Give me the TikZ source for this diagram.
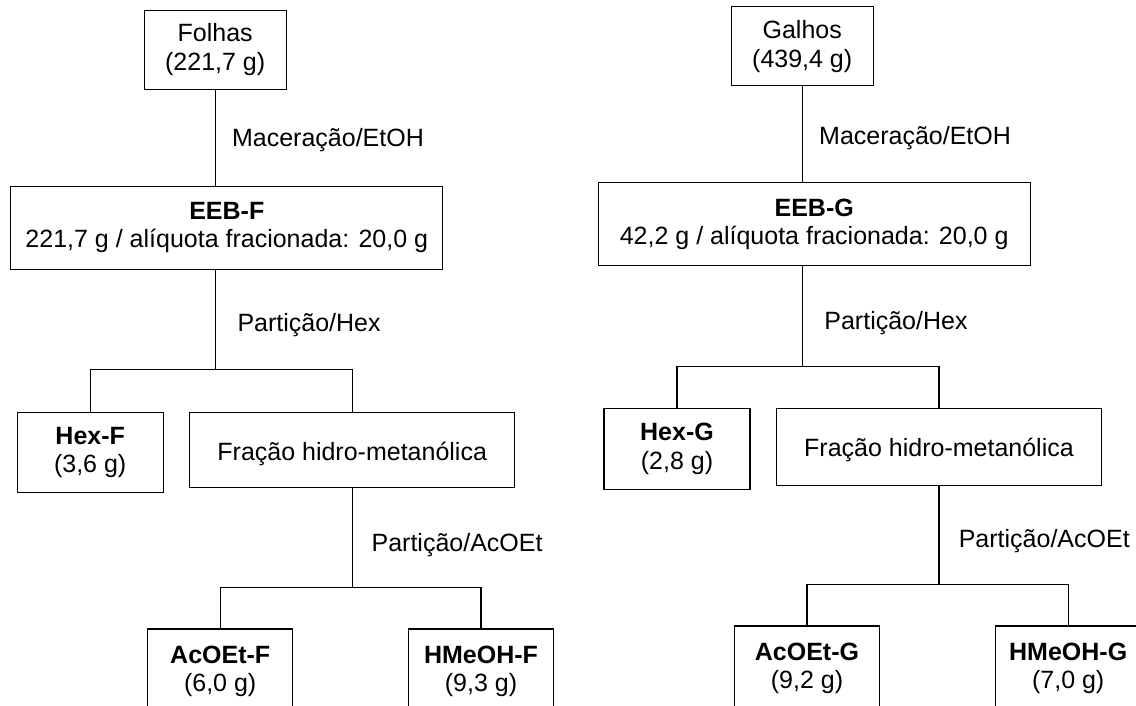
\documentclass[tikz,border=0pt]{standalone}
\usepackage{fontspec}
\setmainfont{Liberation Sans}
\begin{document}
\begin{tikzpicture}[x=1pt,y=-1pt,
  box/.style={draw, line width=1.2pt, align=center, inner sep=0pt,
    font=\fontsize{25}{28.5}\selectfont,
    execute at begin node={\rule{0pt}{26pt}}},
  conn/.style={line width=1.2pt},
  lbl/.style={anchor=west, inner sep=0pt, font=\fontsize{25}{28.5}\selectfont}]
\useasboundingbox (0,0) rectangle (1136,706);
\clip (0,0) rectangle (1136,706);

% ---------- left panel: Folhas ----------
\node[box, minimum width=142pt, minimum height=79pt] (folhas) at (215.2,49.7) {Folhas\\(221,7 g)};
\node[box, minimum width=432pt, minimum height=83pt] (eebf) at (226.8,227.7) {\textbf{EEB-F}\\221,7 g / alíquota fracionada: 20,0 g};
\node[box, minimum width=146pt, minimum height=80pt] (hexf) at (90.2,452.5) {\textbf{Hex-F}\\(3,6 g)};
\node[box, minimum width=325pt, minimum height=75pt] (fracf) at (352.2,450) {Fração hidro-metanólica};
\node[box, minimum width=145pt, minimum height=85pt] (acoetf) at (220.2,671.5) {\textbf{AcOEt-F}\\(6,0 g)};
\node[box, minimum width=145pt, minimum height=85pt] (hmeohf) at (481,671.5) {\textbf{HMeOH-F}\\(9,3 g)};

\coordinate (jf1) at (216.7,369.3);
\coordinate (jf2) at (348.6,587.3);

\draw[conn] (folhas.south) -- (folhas.south |- eebf.north);
\draw[conn] (folhas.south |- eebf.south) -- (folhas.south |- jf1);
\draw[conn] (hexf.north) |- (jf1) -| (fracf.north);
\draw[conn] (fracf.south) -- (fracf.south |- jf2);
\draw[conn] (acoetf.north) |- (fracf.south |- jf2) -| (hmeohf.north);

\node[lbl] (macf) at (231.9,140) {Maceração/EtOH};
\node[lbl] (pahf) at (237.3,325) {Partição/Hex};
\node[lbl] (paaf) at (371.4,545) {Partição/AcOEt};

% ---------- right panel: Galhos ----------
\node[box, minimum width=142pt, minimum height=79pt] (galhos) at (802.2,46.3) {Galhos\\(439,4 g)};
\node[box, minimum width=432pt, minimum height=83pt] (eebg) at (814.2,224.3) {\textbf{EEB-G}\\42,2 g / alíquota fracionada: 20,0 g};
\node[box, minimum width=146pt, minimum height=81pt] (hexg) at (677,448.8) {\textbf{Hex-G}\\(2,8 g)};
\node[box, minimum width=325pt, minimum height=77pt] (fracg) at (939,446.6) {Fração hidro-metanólica};
\node[box, minimum width=145pt, minimum height=85pt] (acoetg) at (807,668.5) {\textbf{AcOEt-G}\\(9,2 g)};
\node[box, minimum width=145pt, minimum height=85pt] (hmeohg) at (1068.2,668.5) {\textbf{HMeOH-G}\\(7,0 g)};

\coordinate (jg1) at (804.2,366.7);
\coordinate (jg2) at (935.4,584.3);

\draw[conn] (galhos.south) -- (galhos.south |- eebg.north);
\draw[conn] (galhos.south |- eebg.south) -- (galhos.south |- jg1);
\draw[conn] (hexg.north) |- (jg1) -| (fracg.north);
\draw[conn] (fracg.south) -- (fracg.south |- jg2);
\draw[conn] (acoetg.north) |- (fracg.south |- jg2) -| (hmeohg.north);

\node[lbl] (macg) at (819,138) {Maceração/EtOH};
\node[lbl] (pahg) at (824.2,322.7) {Partição/Hex};
\node[lbl] (paag) at (958.6,540.7) {Partição/AcOEt};
\end{tikzpicture}
\end{document}
